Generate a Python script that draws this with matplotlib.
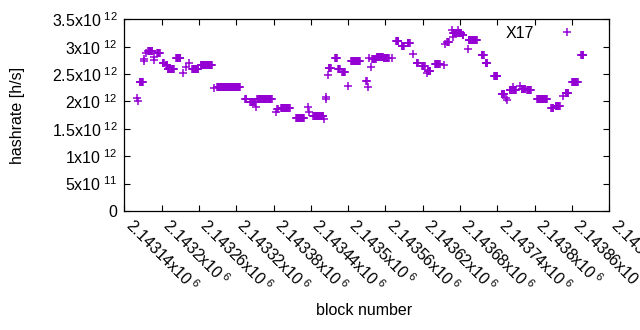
import numpy as np
import matplotlib
matplotlib.use("Agg")
import matplotlib.pyplot as plt
import matplotlib.transforms as mtransforms

plt.rcParams['font.family'] = ['Liberation Sans', 'DejaVu Sans']
plt.rcParams['mathtext.default'] = 'regular'

# runs of blocks with the same hashrate: first block, last block, hashrate [1e12 h/s]
run_start = [2143160, 2143162, 2143165, 2143171, 2143172, 2143175, 2143178, 2143187, 2143188, 2143193,
             2143202, 2143207, 2143210, 2143223, 2143234, 2143239, 2143244, 2143249, 2143263, 2143284,
             2143289, 2143334, 2143342, 2143352, 2143354, 2143384, 2143386, 2143392, 2143416, 2143435,
             2143437, 2143444, 2143461, 2143464, 2143465, 2143467, 2143469, 2143479, 2143484, 2143490,
             2143500, 2143505, 2143529, 2143532, 2143533, 2143536, 2143539, 2143546, 2143557, 2143571,
             2143577, 2143586, 2143596, 2143604, 2143610, 2143619, 2143627, 2143628, 2143640, 2143654,
             2143655, 2143659, 2143667, 2143668, 2143669, 2143677, 2143678, 2143684, 2143692, 2143694,
             2143715, 2143721, 2143735, 2143747, 2143754, 2143756, 2143760, 2143765, 2143766, 2143776,
             2143779, 2143788, 2143804, 2143827, 2143834, 2143846, 2143850, 2143860, 2143875]
run_end = [2143160, 2143162, 2143170, 2143171, 2143172, 2143175, 2143185, 2143187, 2143188, 2143197,
           2143204, 2143209, 2143220, 2143230, 2143234, 2143239, 2143244, 2143259, 2143281, 2143284,
           2143326, 2143336, 2143351, 2143352, 2143377, 2143384, 2143387, 2143406, 2143429, 2143435,
           2143437, 2143460, 2143461, 2143464, 2143465, 2143467, 2143472, 2143482, 2143487, 2143495,
           2143500, 2143519, 2143530, 2143532, 2143533, 2143536, 2143545, 2143556, 2143565, 2143571,
           2143581, 2143590, 2143599, 2143604, 2143612, 2143623, 2143627, 2143632, 2143647, 2143654,
           2143655, 2143662, 2143667, 2143668, 2143676, 2143677, 2143682, 2143685, 2143692, 2143707,
           2143718, 2143724, 2143740, 2143751, 2143754, 2143756, 2143764, 2143765, 2143770, 2143776,
           2143785, 2143794, 2143820, 2143830, 2143840, 2143846, 2143854, 2143869, 2143878]
run_rate = [2.07, 2.00, 2.36, 2.73, 2.77, 2.89, 2.93, 2.81, 2.75, 2.89,
            2.71, 2.66, 2.60, 2.80, 2.52, 2.63, 2.70, 2.60, 2.67, 2.24,
            2.27, 2.05, 1.99, 1.90, 2.04, 1.80, 1.86, 1.88, 1.70, 1.89,
            1.80, 1.74, 1.68, 2.08, 2.04, 2.49, 2.62, 2.80, 2.60, 2.53,
            2.28, 2.73, 2.37, 2.27, 2.79, 2.63, 2.77, 2.82, 2.80, 2.80,
            3.11, 3.01, 3.07, 2.86, 2.70, 2.64, 2.52, 2.56, 2.69, 2.67,
            3.04, 3.08, 3.31, 3.18, 3.25, 3.31, 3.25, 3.22, 2.95, 3.12,
            2.84, 2.71, 2.47, 2.14, 2.07, 2.02, 2.21, 2.26, 2.21, 2.28,
            2.22, 2.21, 2.05, 1.88, 1.91, 2.10, 2.16, 2.35, 2.84]

x_ticks = [2143140, 2143200, 2143260, 2143320, 2143380, 2143440, 2143500,
           2143560, 2143620, 2143680, 2143740, 2143800, 2143860, 2143920]
x_tick_text = ["2.14314", "2.1432", "2.14326", "2.14332", "2.14338", "2.14344", "2.1435",
               "2.14356", "2.14362", "2.14368", "2.14374", "2.1438", "2.14386", "2.14392"]
y_ticks = [0, 0.5e12, 1e12, 1.5e12, 2e12, 2.5e12, 3e12, 3.5e12]
y_tick_text = ["0", "5x10^{11}", "1x10^{12}", "1.5x10^{12}", "2x10^{12}",
               "2.5x10^{12}", "3x10^{12}", "3.5x10^{12}"]

# one point per block
blocks = np.concatenate([np.arange(s, e + 1) for s, e in zip(run_start, run_end)])
rates = np.concatenate([np.full(e - s + 1, r) for s, e, r in zip(run_start, run_end, run_rate)]) * 1e12

fig = plt.figure(figsize=(6.4, 3.3), dpi=100)
ax = fig.add_axes([0.1942, 0.3606, 0.7578, 0.5809])

ax.plot(blocks, rates, linestyle='none', marker='+', markersize=6,
        markeredgewidth=1.1, color='#9400d3', label='X17')

ax.set_xlim(x_ticks[0], x_ticks[-1])
ax.set_ylim(y_ticks[0], y_ticks[-1])

ax.set_xticks(x_ticks)
ax.set_xticklabels(["$" + t + "x10^{\\;6}$" for t in x_tick_text], rotation=-45,
                   ha='left', va='center', rotation_mode='anchor', fontsize=11.5)
ax.set_yticks(y_ticks)
ax.set_yticklabels(["$" + t.replace("^{", "^{\\ ") + "$" if "^" in t else t for t in y_tick_text],
                   fontsize=11.5)

ax.tick_params(direction='in', top=True, right=True, length=4, width=0.8, pad=5)
ax.tick_params(axis='x', pad=8)
shift = mtransforms.ScaledTranslation(3 / 72, 0, fig.dpi_scale_trans)
for lab in ax.get_xticklabels():
    lab.set_transform(lab.get_transform() + shift)
for sp in ax.spines.values():
    sp.set_linewidth(0.9)

ax.set_xlabel('block number', fontsize=11.5)
ax.set_ylabel('hashrate [h/s]', fontsize=11.5)
ax.xaxis.set_label_coords(0.495, -0.48)
ax.yaxis.set_label_coords(-0.205, 0.5)

ax.legend(loc='upper right', bbox_to_anchor=(0.946, 0.965), markerfirst=False,
          frameon=False, borderpad=0, borderaxespad=0, handlelength=2,
          handletextpad=1.05, numpoints=1, fontsize=11.5)

fig.savefig('out.png', dpi=100)
